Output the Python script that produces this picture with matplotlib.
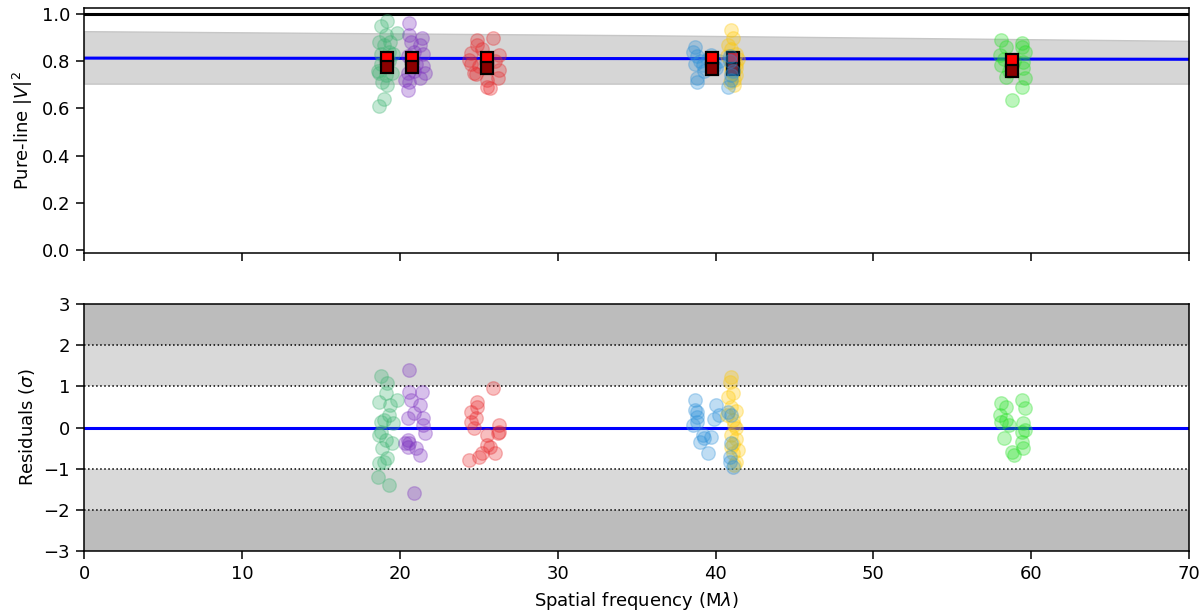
import matplotlib
matplotlib.use("Agg")
import matplotlib.pyplot as plt

# ---------------- data ----------------
# model curve / uncertainty band (top panel)
model_freq = [0, 35, 70]
model_v2 = [0.813, 0.811, 0.808]
band_hi = [0.927, 0.910, 0.886]
band_lo = [0.705, 0.705, 0.705]

# baseline groups
x_green = [18.8, 19.2, 19.1, 18.7, 19.4, 19.8, 19.0, 18.8, 19.3, 19.6, 18.8, 18.7, 19.1, 19.5, 18.9, 19.2, 19.0, 18.7, 19.3, 18.6]
v_green = [0.95, 0.97, 0.91, 0.88, 0.88, 0.92, 0.87, 0.83, 0.84, 0.83, 0.79, 0.75, 0.74, 0.75, 0.71, 0.70, 0.64, 0.61, 0.80, 0.76]
r_green = [1.25, 1.08, 0.84, 0.62, 0.55, 0.67, 0.18, 0.13, 0.30, 0.10, -0.10, -0.18, -0.30, -0.38, -0.50, -0.74, -0.83, -0.86, -1.40, -1.20]

x_purple = [20.6, 20.6, 21.4, 20.7, 21.3, 20.9, 21.5, 20.5, 21.5, 21.6, 20.5, 20.3, 20.6, 20.5, 21.3, 20.9, 21.0]
v_purple = [0.96, 0.91, 0.90, 0.88, 0.87, 0.84, 0.83, 0.82, 0.78, 0.75, 0.75, 0.72, 0.71, 0.68, 0.73, 0.76, 0.79]
r_purple = [1.40, 0.86, 0.86, 0.67, 0.55, 0.35, 0.23, 0.23, 0.06, -0.13, -0.30, -0.37, -0.38, -0.47, -0.67, -1.60, -0.50]

x_red = [25.9, 24.9, 24.9, 24.5, 24.5, 24.7, 24.8, 26.3, 26.3, 26.2, 25.5, 25.5, 25.7, 24.4, 25.2, 26.0, 25.0]
v_red = [0.90, 0.89, 0.87, 0.835, 0.79, 0.75, 0.745, 0.826, 0.763, 0.73, 0.72, 0.69, 0.686, 0.805, 0.85, 0.80, 0.78]
r_red = [0.96, 0.62, 0.50, 0.38, 0.13, -0.01, 0.23, 0.06, -0.10, -0.13, -0.18, -0.42, -0.47, -0.79, -0.62, -0.62, -0.72]

x_blue = [38.7, 38.8, 38.7, 38.8, 38.8, 39.7, 39.2, 39.0, 39.5, 40.0, 38.6, 39.3, 40.2, 39.9]
v_blue = [0.86, 0.82, 0.79, 0.73, 0.71, 0.826, 0.784, 0.80, 0.81, 0.77, 0.84, 0.76, 0.80, 0.78]
r_blue = [0.67, 0.38, 0.42, 0.26, 0.13, -0.23, -0.18, -0.35, -0.62, 0.55, 0.05, -0.25, 0.30, 0.20]

x_yellow = [41.0, 41.1, 40.8, 41.0, 41.3, 40.7, 41.1, 41.3, 41.0, 41.3, 41.0, 41.1, 41.3, 41.2, 40.9, 41.2, 41.1, 41.4]
v_yellow = [0.93, 0.90, 0.87, 0.85, 0.83, 0.82, 0.80, 0.79, 0.78, 0.77, 0.76, 0.75, 0.74, 0.72, 0.71, 0.70, 0.78, 0.81]
r_yellow = [1.23, 0.83, 0.74, 0.50, 0.40, 0.30, 0.18, 0.00, -0.18, -0.27, -0.47, -0.62, -0.83, -0.90, 1.10, 0.05, -0.40, -0.55]

x_blue2 = [40.8, 41.0, 40.9, 41.1, 40.9, 41.0]
v_blue2 = [0.69, 0.72, 0.80, 0.76, 0.82, 0.74]
r_blue2 = [0.38, -0.38, -0.72, -0.96, -0.85, 0.30]

x_lime = [58.1, 59.4, 58.4, 58.0, 59.6, 59.5, 58.1, 58.4, 59.6, 59.4, 58.8, 59.4, 58.3, 58.6, 59.5, 58.9]
v_lime = [0.89, 0.877, 0.86, 0.826, 0.84, 0.797, 0.784, 0.733, 0.73, 0.69, 0.636, 0.86, 0.81, 0.76, 0.77, 0.80]
r_lime = [0.59, 0.67, 0.50, 0.30, 0.47, 0.10, 0.13, 0.18, -0.06, -0.10, -0.60, -0.35, -0.26, 0.05, -0.50, -0.67]

# binned averages (model: red, data mean: dark red)
sq_x = [19.2, 20.8, 25.5, 39.8, 41.1, 58.8]
sq_model = [0.813, 0.813, 0.812, 0.812, 0.812, 0.806]
sq_mean = [0.777, 0.777, 0.773, 0.767, 0.767, 0.757]

c_green = "#3cb371"
c_purple = "#7b2fbf"
c_red = "#e8282b"
c_blue = "#2b90d9"
c_yellow = "#ffc800"
c_lime = "#22e022"

groups = [
    (x_green, v_green, r_green, c_green, 0),
    (x_purple, v_purple, r_purple, c_purple, 1),
    (x_red, v_red, r_red, c_red, 2),
    (x_blue, v_blue, r_blue, c_blue, 3),
    (x_yellow, v_yellow, r_yellow, c_yellow, 4),
    (x_blue2, v_blue2, r_blue2, c_blue, None),
    (x_lime, v_lime, r_lime, c_lime, 5),
]

# ---------------- figure ----------------
plt.rcParams["axes.linewidth"] = 1.1
fig = plt.figure(figsize=(12, 6.16), dpi=100)
ax1 = fig.add_axes([0.07, 0.589, 0.921, 0.398])
ax2 = fig.add_axes([0.07, 0.1055, 0.921, 0.401], sharex=ax1)

FS = 13
S = 95
A = 0.3

ax1.fill_between(model_freq, band_lo, band_hi, facecolor="#d6d6d6", edgecolor="#c6c6c6", lw=1, zorder=1)
ax1.plot(model_freq, model_v2, color="blue", lw=2.2, zorder=2)
ax1.axhline(1.0, color="black", lw=2.2, zorder=2)

for xs, vs, rs, col, sqi in groups:
    ax1.scatter(xs, vs, s=S, color=col, alpha=A, linewidths=1, zorder=3)
    ax2.scatter(xs, rs, s=S, color=col, alpha=A, linewidths=1, zorder=3)
    if sqi is not None:
        ax1.plot([sq_x[sqi]], [sq_model[sqi]], marker="s", ms=8.5, mfc="red", mec="black", mew=1.6, ls="none", zorder=3)
        ax1.plot([sq_x[sqi]], [sq_mean[sqi]], marker="s", ms=8.5, mfc="darkred", mec="black", mew=1.6, ls="none", zorder=3)

ax1.set_ylim(-0.0125, 1.025)
ax1.set_xlim(0, 70)
ax1.set_yticks([0.0, 0.2, 0.4, 0.6, 0.8, 1.0])
ax1.tick_params(labelbottom=False, labelsize=FS, length=5.5, width=1.1, pad=4.5)
ax1.set_ylabel("Pure-line $|V|^2$", fontsize=FS, labelpad=5)

# residual panel
ax2.axhspan(2, 3, color="#bcbcbc", lw=0, zorder=0)
ax2.axhspan(-3, -2, color="#bcbcbc", lw=0, zorder=0)
ax2.axhspan(1, 2, color="#d9d9d9", lw=0, zorder=0)
ax2.axhspan(-2, -1, color="#d9d9d9", lw=0, zorder=0)
for yv in [-2, -1, 1, 2]:
    ax2.axhline(yv, color="black", ls=":", lw=1.1, zorder=1)
ax2.axhline(0, color="blue", lw=2.2, zorder=2)
ax2.set_ylim(-3, 3)
ax2.set_yticks([-3, -2, -1, 0, 1, 2, 3])
ax2.set_xticks([0, 10, 20, 30, 40, 50, 60, 70])
ax2.tick_params(labelsize=FS, length=5.5, width=1.1, pad=4.5)
ax2.set_ylabel("Residuals ($\\sigma$)", fontsize=FS, labelpad=5)
ax2.set_xlabel("Spatial frequency (M$\\lambda$)", fontsize=FS, labelpad=5)

fig.savefig("out.png", dpi=100)
